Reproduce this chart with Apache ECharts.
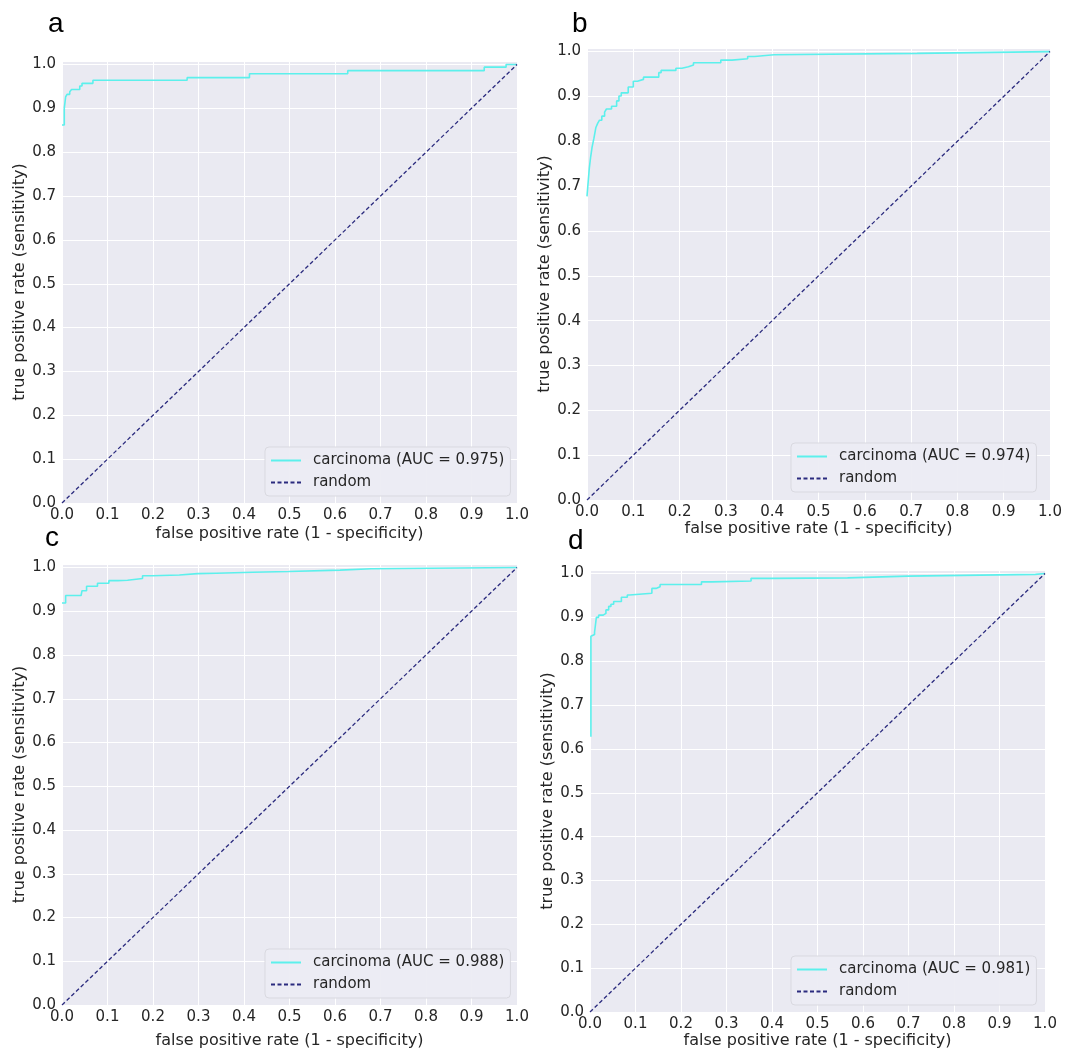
<!DOCTYPE html>
<html>
<head>
<meta charset="utf-8">
<script src="https://cdn.jsdelivr.net/npm/echarts@6/dist/echarts.min.js"></script>
<style>
  html, body { margin: 0; padding: 0; background: #fff; }
  #chart { width: 1079px; height: 1053px; }
</style>
</head>
<body>
<div id="chart"></div>
<script>
// ROC points (x = false positive rate, y = true positive rate)
const fprA = [0, 0.005, 0.008, 0.011, 0.017, 0.021, 0.039, 0.044, 0.068, 0.275, 0.412, 0.628, 0.928, 0.976, 1.0];
const tprA = [0.862, 0.9, 0.926, 0.932, 0.938, 0.943, 0.951, 0.957, 0.964, 0.970, 0.979, 0.986, 0.994, 1.0, 1.0];

const fprB = [0, 0.002, 0.005, 0.008, 0.011, 0.015, 0.019, 0.023, 0.027, 0.032, 0.038, 0.042, 0.053, 0.064, 0.069, 0.074, 0.089, 0.100, 0.109, 0.122, 0.155, 0.160, 0.192, 0.205, 0.219, 0.230, 0.289, 0.313, 0.347, 0.362, 0.404, 0.713, 1.0];
const tprB = [0.677, 0.703, 0.740, 0.766, 0.787, 0.807, 0.830, 0.840, 0.847, 0.856, 0.865, 0.872, 0.878, 0.890, 0.901, 0.908, 0.921, 0.934, 0.938, 0.943, 0.953, 0.958, 0.963, 0.966, 0.970, 0.975, 0.981, 0.984, 0.989, 0.993, 0.996, 1.0, 1.0];

const fprC = [0, 0.008, 0.042, 0.044, 0.054, 0.078, 0.103, 0.123, 0.144, 0.177, 0.199, 0.258, 0.298, 0.339, 0.419, 0.498, 0.611, 0.680, 1.0];
const tprC = [0.919, 0.936, 0.939, 0.947, 0.957, 0.964, 0.970, 0.971, 0.975, 0.981, 0.983, 0.986, 0.987, 0.989, 0.991, 0.994, 0.997, 1.0, 1.0];

const fprD = [0.002, 0.002, 0.006, 0.010, 0.014, 0.019, 0.029, 0.035, 0.041, 0.046, 0.052, 0.069, 0.082, 0.087, 0.136, 0.145, 0.154, 0.245, 0.268, 0.354, 0.399, 0.566, 0.698, 0.979, 1.0];
const tprD = [0.628, 0.857, 0.861, 0.866, 0.900, 0.905, 0.909, 0.917, 0.925, 0.930, 0.936, 0.946, 0.951, 0.955, 0.966, 0.970, 0.975, 0.981, 0.983, 0.989, 0.990, 0.994, 0.998, 1.0, 1.0];

const panelLetters = ["a", "b", "c", "d"];
const aucLabels = ["carcinoma (AUC = 0.975)", "carcinoma (AUC = 0.974)", "carcinoma (AUC = 0.988)", "carcinoma (AUC = 0.981)"];
const randomX = [0, 1];
const randomY = [0, 1];
const xName = "false positive rate (1 - specificity)";
const yName = "true positive rate (sensitivity)";

const curves = [[fprA, tprA], [fprB, tprB], [fprC, tprC], [fprD, tprD]];

// layout of each panel
const panels = [
  { left: 62, top: 61, width: 455, height: 442, xGap: 23, yGap: 34, legend: { left: 265, top: 447 }, letter: [48, 26] },
  { left: 587, top: 48, width: 463, height: 452, xGap: 21, yGap: 34, legend: { left: 791, top: 443 }, letter: [572, 26] },
  { left: 62, top: 564, width: 455, height: 441, xGap: 28, yGap: 34, legend: { left: 265, top: 949 }, letter: [45, 540] },
  { left: 590, top: 570, width: 455, height: 442, xGap: 16, yGap: 34, legend: { left: 791, top: 956 }, letter: [568, 543] }
];

const textColor = "#262626";
const fontFam = "DejaVu Sans";
const rocColor = "#5CF0EC";
const randColor = "#2B2B7E";

const tickFmt = v => (Math.abs(v * 10 - Math.round(v * 10)) < 1e-6 ? v.toFixed(1) : "");

const zip = (xs, ys) => xs.map((x, i) => [x, ys[i]]);

let option = {
  backgroundColor: "#ffffff",
  animation: false,
  grid: panels.map(p => ({
    left: p.left, top: p.top, width: p.width, height: p.height,
    show: true, backgroundColor: "#EAEAF2", borderWidth: 0
  })),
  xAxis: panels.map((p, i) => ({
    type: "value", gridIndex: i, min: 0, max: 1, interval: 0.1,
    name: xName, nameLocation: "middle", nameGap: p.xGap,
    nameTextStyle: { color: textColor, fontSize: 16, fontFamily: fontFam },
    axisLine: { show: false }, axisTick: { show: false },
    axisLabel: { color: textColor, fontSize: 15, fontFamily: fontFam, margin: 5, formatter: tickFmt, showMinLabel: true, showMaxLabel: true },
    splitLine: { show: true, lineStyle: { color: "#ffffff", width: 1 } }
  })),
  yAxis: panels.map((p, i) => ({
    type: "value", gridIndex: i, min: 0, max: 1.008, interval: 0.1,
    name: yName, nameLocation: "middle", nameGap: p.yGap,
    nameTextStyle: { color: textColor, fontSize: 16, fontFamily: fontFam },
    axisLine: { show: false }, axisTick: { show: false },
    axisLabel: { color: textColor, fontSize: 15, fontFamily: fontFam, margin: 6, formatter: tickFmt, showMinLabel: true },
    splitLine: { show: true, lineStyle: { color: "#ffffff", width: 1 } }
  })),
  legend: panels.map((p, i) => ({
    data: [aucLabels[i], "random"],
    orient: "vertical",
    left: p.legend.left, top: p.legend.top,
    itemWidth: 30, itemHeight: 14, itemGap: 7,
    padding: [6, 6, 6, 5],
    backgroundColor: "rgba(236,236,243,0.95)",
    borderColor: "#d9d9e0", borderWidth: 1, borderRadius: 4,
    selectedMode: false,
    itemStyle: { opacity: 0 },
    textStyle: { color: textColor, fontSize: 15, fontFamily: fontFam, padding: [0, 0, 0, 7] }
  })),
  graphic: panels.map((p, i) => ({
    type: "text", left: p.letter[0], top: p.letter[1] - 16,
    style: { text: panelLetters[i], fill: "#000", font: "28px 'Liberation Sans', Arial, sans-serif" }
  })),
  series: []
};

curves.forEach((c, i) => {
  option.series.push({
    name: aucLabels[i], type: "line", xAxisIndex: i, yAxisIndex: i,
    data: zip(c[0], c[1]), step: "end", symbol: "none",
    lineStyle: { color: rocColor, width: 1.6 }, itemStyle: { color: rocColor }
  });
  option.series.push({
    name: "random", type: "line", xAxisIndex: i, yAxisIndex: i,
    data: zip(randomX, randomY), symbol: "none",
    lineStyle: { color: randColor, width: 1.3, type: [4, 2.5] }, itemStyle: { color: randColor }
  });
});

const chart = echarts.init(document.getElementById("chart"));
chart.setOption(option);
</script>
</body>
</html>
